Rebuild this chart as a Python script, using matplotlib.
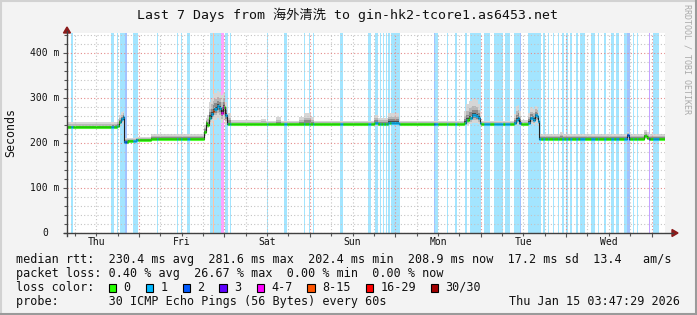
import numpy as np
import matplotlib
matplotlib.use('Agg')
import matplotlib.pyplot as plt
from matplotlib.collections import LineCollection
from matplotlib.patches import Rectangle, Polygon
from matplotlib.lines import Line2D

MONO = ['DejaVu Sans Mono', 'Noto Sans CJK SC']
plt.rcParams['font.family'] = MONO

# ---------------- data (time in hours since Thu Jan 8 00:00) ----------------
title = "Last 7 Days from 海外清洗 to gin-hk2-tcore1.as6453.net"
day_labels = ['Thu', 'Fri', 'Sat', 'Sun', 'Mon', 'Tue', 'Wed']
day_noon = [12, 36, 60, 84, 108, 132, 156]
t_start, t_end = 3.79, 171.79
y_max = 444.4
y_major = [0, 100, 200, 300, 400]
y_labels = ['0', '100 m', '200 m', '300 m', '400 m']

seg_t = [3.8, 16.1, 17.8, 18.4, 19.0, 19.4, 19.7, 20.9, 22.3, 23.2, 27.4,
         42.3, 42.7, 43.1, 43.7, 44.2, 44.8, 45.1, 45.9, 46.5, 47.0, 47.6, 48.1,
         48.7, 49.8, 58.3, 59.7, 62.5, 63.9, 68.9, 70.3, 72.3, 73.1,
         90.0, 91.1, 93.9, 97.0,
         115.2, 115.8, 116.6, 117.6, 118.6, 119.2, 119.7, 120.0,
         129.3, 129.8, 130.4, 130.9, 131.2,
         133.2, 133.9, 134.6, 135.2, 135.7, 136.1, 136.4,
         142.3, 143.1, 161.0, 161.6, 166.0, 166.6, 167.2]
median_ms = [235, 235, 238, 246, 253, 258, 203, 205, 204, 207, 209.5,
             225, 245, 240, 256, 264, 271, 275, 282, 278, 267, 281, 262,
             241.5, 241.5, 241.5, 241.5, 241.5, 241.5, 241.5, 241.5, 241.5, 241.5,
             244, 242, 245, 241.5,
             244, 250, 255, 262, 260, 255, 244, 241.5,
             244, 252, 256, 245, 241.5,
             245, 255, 252, 262, 259, 248, 209.5,
             209.5, 209.5, 218, 209.5, 215, 212, 209.5]
smoke_lo = [232, 232, 234, 238, 242, 245, 200, 202, 201, 204, 206,
            215, 236, 234, 240, 245, 248, 252, 255, 252, 245, 250, 240,
            238, 238, 238, 238, 238, 238, 238, 238, 238, 238,
            238, 238, 239, 238,
            238, 240, 242, 245, 244, 242, 238, 238,
            238, 240, 242, 238, 238,
            238, 242, 240, 245, 244, 238, 206,
            206, 206, 208, 206, 208, 207, 206]
smoke_hi = [246, 247, 252, 262, 268, 272, 212, 212, 211, 213, 219,
            240, 255, 262, 290, 300, 308, 312, 315, 313, 306, 311, 292,
            266, 250, 253, 249, 258, 249, 258, 266, 258, 249,
            263, 256, 266, 249,
            270, 286, 294, 297, 295, 286, 270, 249,
            265, 282, 285, 270, 251,
            266, 279, 276, 283, 281, 268, 219,
            225, 219, 225, 219, 229, 224, 219]

loss_start = [4.91, 16.14, 17.82, 18.67, 20.07, 22.32, 29.05, 34.67, 35.93, 37.47,
              43.93, 44.77, 45.14, 47.02, 48.14, 49.54, 59.93, 64.70, 70.32, 71.72,
              72.84, 80.42, 88.28, 90.25, 91.65, 92.49, 93.33, 93.90, 94.74,
              106.80, 107.08, 110.45, 112.70, 115.50, 116.91, 120.83, 123.63, 126.72,
              129.26, 130.94, 133.18, 137.40, 138.80, 140.20, 141.60, 142.73, 143.85,
              144.97, 146.80, 147.79, 150.88, 152.84, 154.52, 156.49, 157.89, 160.14,
              160.98, 162.94, 164.06, 167.16, 168.42]
loss_end = [5.47, 16.98, 18.10, 20.07, 20.63, 23.72, 29.33, 34.95, 36.21, 38.32,
            44.77, 45.14, 47.02, 48.00, 48.98, 49.82, 60.21, 65.54, 70.60, 72.00,
            73.12, 81.26, 89.12, 91.09, 91.93, 92.77, 93.61, 94.46, 97.26,
            107.08, 107.93, 110.73, 113.26, 116.07, 120.00, 122.52, 126.16, 128.12,
            130.94, 131.22, 136.84, 137.96, 139.09, 140.49, 141.89, 143.29, 144.41,
            145.53, 147.21, 149.19, 152.00, 153.12, 155.08, 157.33, 158.73, 160.98,
            161.82, 163.22, 164.34, 167.44, 170.10]
loss_class = [1, 1, 1, 1, 2, 1, 1, 1, 1, 1,
              1, 5, 1, 4, 1, 1, 1, 1, 1, 1,
              1, 1, 1, 1, 1, 1, 1, 1, 1,
              2, 1, 1, 1, 1, 1, 1, 1, 1,
              1, 2, 1, 1, 1, 1, 1, 1, 1,
              1, 1, 1, 1, 1, 1, 1, 1, 1,
              2, 1, 1, 3, 1]

loss_colors = ['#26ff00', '#00b8ff', '#0059ff', '#5e00ff',
               '#ff00ff', '#ff5500', '#ff0000', '#a10000']
loss_names = ['0', '1', '2', '3', '4-7', '8-15', '16-29', '30/30']

legend_rtt = 'median rtt:  230.4 ms avg  281.6 ms max  202.4 ms min  208.9 ms now  17.2 ms sd  13.4   am/s'
legend_loss = 'packet loss: 0.40 % avg  26.67 % max  0.00 % min  0.00 % now'
legend_probe = 'probe:       30 ICMP Echo Pings (56 Bytes) every 60s'
stamp = 'Thu Jan 15 03:47:29 2026'

# ---------------- figure ----------------
W, H = 697, 315
fig = plt.figure(figsize=(W / 100, H / 100), dpi=100)
fig.patch.set_facecolor('#f3f3f3')


def fx(x):
    return x / W


def fy(y):
    return 1 - y / H


ax = fig.add_axes([fx(67), fy(233), (665 - 67) / W, 200 / H])
ax.set_facecolor('white')
ax.set_xlim(t_start, t_end)
ax.set_ylim(0, y_max)
for s in ax.spines.values():
    s.set_visible(False)


def lighten(c, a=0.36):
    r, g, b = matplotlib.colors.to_rgb(c)
    return (1 - a + a * r, 1 - a + a * g, 1 - a + a * b)


# loss background bars
for s, e, c in zip(loss_start, loss_end, loss_class):
    ax.axvspan(s, e, color=lighten(loss_colors[c]), lw=0, zorder=0.5)

# grid
ax.set_yticks(y_major)
ax.set_yticks(np.arange(0, y_max, 20), minor=True)
ax.set_xticks(np.arange(24, t_end, 24))
ax.set_xticks(np.arange(6, t_end, 6), minor=True)
ax.set_xticklabels([])
ax.set_yticklabels([])
ax.grid(which='minor', color='#c4c4c4', linestyle=(0, (1, 2)), lw=0.8, zorder=1)
ax.grid(which='major', color='#e58a8a', linestyle=(0, (1, 2)), lw=0.8, zorder=1.1)
ax.set_axisbelow(False)
ax.tick_params(which='both', direction='out', color='#555555', width=0.8)
ax.tick_params(which='major', length=3)
ax.tick_params(which='minor', length=2)

# smoke
t_arr = np.array(seg_t + [t_end])
med = np.array(median_ms + [median_ms[-1]], dtype=float)
lo = np.array(smoke_lo + [smoke_lo[-1]], dtype=float)
hi = np.array(smoke_hi + [smoke_hi[-1]], dtype=float)
layers = [(1.0, '#d6d6d6'), (0.6, '#b8b8b8'), (0.35, '#8a8a8a'), (0.15, '#4a4a4a')]
for f, col in layers:
    ax.fill_between(t_arr, med - (med - lo) * f, med + (hi - med) * f,
                    step='post', color=col, lw=0, zorder=2)

# median line (black thin) + loss-colored thick segments
ax.step(t_arr, med, where='post', color='#202020', lw=0.8, zorder=3)
n = 598
dt = (t_end - t_start) / n
tc = t_start + (np.arange(n) + 0.5) * dt
idx = np.clip(np.searchsorted(seg_t, tc, side='right') - 1, 0, len(seg_t) - 1)
mv = np.array(median_ms)[idx]
lc = np.zeros(n, dtype=int)
for s, e, c in zip(loss_start, loss_end, loss_class):
    m = (tc >= s) & (tc < e)
    lc[m] = np.maximum(lc[m], c)
segs = [[(t - dt / 2, v), (t + dt / 2, v)] for t, v in zip(tc, mv)]
ax.add_collection(LineCollection(segs, colors=[loss_colors[c] for c in lc],
                                 linewidths=2.2, capstyle='butt', zorder=4))

# axis labels
for t, lab in zip(day_noon, day_labels):
    ax.text(t, -0.045, lab, transform=ax.get_xaxis_transform(), ha='center',
            va='center', fontsize=7, color='#111111')
for v, lab in zip(y_major, y_labels):
    xr = 59.5 if lab != '0' else 48
    ax.text((xr - 67) / 598, v, lab, transform=ax.get_yaxis_transform(),
            ha='right', va='center', fontsize=7, color='#111111')

# axes lines and arrows
axis_col = '#404040'
arrow_col = '#8b1a1a'
fig.add_artist(Line2D([fx(67), fx(67)], [fy(236), fy(31)], color=axis_col, lw=1,
                      transform=fig.transFigure))
fig.add_artist(Line2D([fx(64), fx(673)], [fy(233), fy(233)], color=axis_col, lw=1,
                      transform=fig.transFigure))
fig.add_artist(Polygon([(fx(67), fy(27)), (fx(63.5), fy(33)), (fx(70.5), fy(33))],
                       closed=True, color=arrow_col, transform=fig.transFigure))
fig.add_artist(Polygon([(fx(678), fy(233)), (fx(672), fy(229.5)), (fx(672), fy(236.5))],
                       closed=True, color=arrow_col, transform=fig.transFigure))

# title, y label, watermark
fig.text(fx(347.5), fy(14.5), title, ha='center', va='center', fontsize=9.5,
         color='#111111', family=MONO)
fig.text(fx(10.5), fy(132.5), 'Seconds', rotation=90, ha='center', va='center',
         fontsize=8.4, color='#111111')
fig.text(fx(687), fy(4), 'RRDTOOL / TOBI OETIKER', rotation=270, ha='center',
         va='top', fontsize=6, color='#aaaaaa')

# legend text
fs = 8.5
tcol = '#111111'
fig.text(fx(16), fy(259.5), legend_rtt, fontsize=fs, va='center', color=tcol)
fig.text(fx(16), fy(273.5), legend_loss, fontsize=fs, va='center', color=tcol)
fig.text(fx(16), fy(287.5), 'loss color:', fontsize=fs, va='center', color=tcol)
box_x = [108.7, 145.7, 182.7, 219.3, 256.7, 307.3, 365.7, 430.7]
for bx, col, name in zip(box_x, loss_colors, loss_names):
    fig.add_artist(Rectangle((fx(bx), fy(291.5)), 7.5 / W, 8 / H, facecolor=col,
                             edgecolor='black', lw=0.8, transform=fig.transFigure))
    fig.text(fx(bx + 14.5), fy(287.5), name, fontsize=fs, va='center', color=tcol)
fig.text(fx(16), fy(301.5), legend_probe, fontsize=fs, va='center', color=tcol)
fig.text(fx(680), fy(301.5), stamp, fontsize=fs, va='center', ha='right', color=tcol)

# frame
fig.add_artist(Line2D([0, 1], [fy(0.8), fy(0.8)], color='#d2d2d2', lw=1.5,
                      transform=fig.transFigure))
fig.add_artist(Line2D([fx(0.8), fx(0.8)], [0, 1], color='#d2d2d2', lw=1.5,
                      transform=fig.transFigure))
fig.add_artist(Line2D([0, 1], [fy(314), fy(314)], color='#9a9a9a', lw=1.5,
                      transform=fig.transFigure))
fig.add_artist(Line2D([fx(696), fx(696)], [0, 1], color='#9a9a9a', lw=1.5,
                      transform=fig.transFigure))

fig.savefig('out.png', dpi=100, facecolor=fig.get_facecolor())
